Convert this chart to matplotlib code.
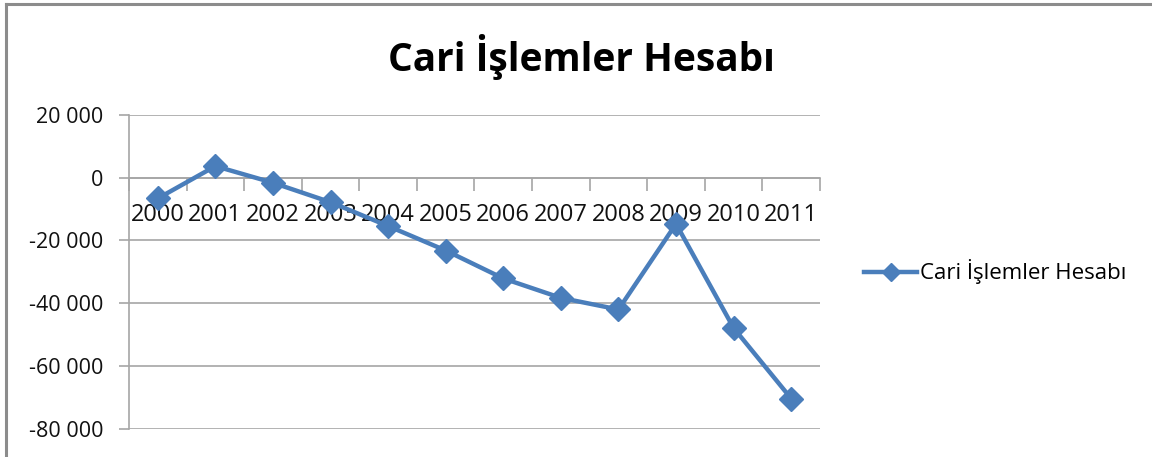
import matplotlib
matplotlib.use("Agg")
import matplotlib.pyplot as plt
from matplotlib.lines import Line2D

years = ["2000", "2001", "2002", "2003", "2004", "2005", "2006", "2007", "2008", "2009", "2010", "2011"]
values = [-6600, 3700, -1600, -7800, -15400, -23200, -32100, -38300, -42000, -14700, -47900, -70400]
yticks = [20000, 0, -20000, -40000, -60000, -80000]
ytick_labels = ["20 000", "0", "-20 000", "-40 000", "-60 000", "-80 000"]
title = "Cari İşlemler Hesabı"
series_name = "Cari İşlemler Hesabı"

W, H = 1152, 457
fig = plt.figure(figsize=(W / 100, H / 100), dpi=100)
plt.rcParams['font.family'] = ['Open Sans', 'DejaVu Sans']

left, right, top, bottom = 129, 820, 115, 428.7
ax = fig.add_axes([left / W, 1 - bottom / H, (right - left) / W, (bottom - top) / H])

color = "#4a7ebb"
x = list(range(len(years)))
ax.plot(x, values, color=color, lw=3.2, marker="D", markersize=12, label=series_name, zorder=3)

ax.set_xlim(-0.5, len(years) - 0.5)
ax.set_ylim(-80000, 20000)
ax.set_yticks(yticks)
ax.set_yticklabels(ytick_labels, fontsize=15.5, color="#111111")
ax.yaxis.grid(True, color="#a6a6a6", lw=1.2)
ax.set_axisbelow(True)

for s in ["top", "right"]:
    ax.spines[s].set_visible(False)
ax.spines["left"].set_color("#a6a6a6")
ax.spines["left"].set_linewidth(1.2)
ax.spines["bottom"].set_position(("data", 0))
ax.spines["bottom"].set_color("#a6a6a6")
ax.spines["bottom"].set_linewidth(1.2)

ax.tick_params(axis="y", length=7, width=1.2, color="#a6a6a6", pad=11.5)
ax.set_xticks([i - 0.5 for i in range(len(years) + 1)], minor=True)
ax.set_xticks(x)
ax.set_xticklabels(years, fontsize=17, color="#111111")
ax.tick_params(axis="x", which="major", length=0, pad=18)
ax.tick_params(axis="x", which="minor", length=9, width=1.2, color="#a6a6a6", direction="out")

fig.text(581 / W, 1 - 57 / H, title, ha="center", va="center", fontsize=28, fontweight="bold", color="#000000")

handle = Line2D([0], [0], color=color, lw=3.2, marker="D", markersize=9)
fig.legend([handle], [series_name], loc="center left", bbox_to_anchor=(855 / W, 1 - 272 / H),
           frameon=False, fontsize=16, handlelength=2.4, handletextpad=0.12, borderaxespad=0)

# chart frame (top and left edges)
fig.add_artist(Line2D([6 / W, 6 / W], [0, 1 - 4 / H], transform=fig.transFigure, color="#8c8c8c", lw=2.2))
fig.add_artist(Line2D([6 / W, 1], [1 - 4 / H, 1 - 4 / H], transform=fig.transFigure, color="#8c8c8c", lw=2.2))

fig.savefig("out.png", dpi=100)
